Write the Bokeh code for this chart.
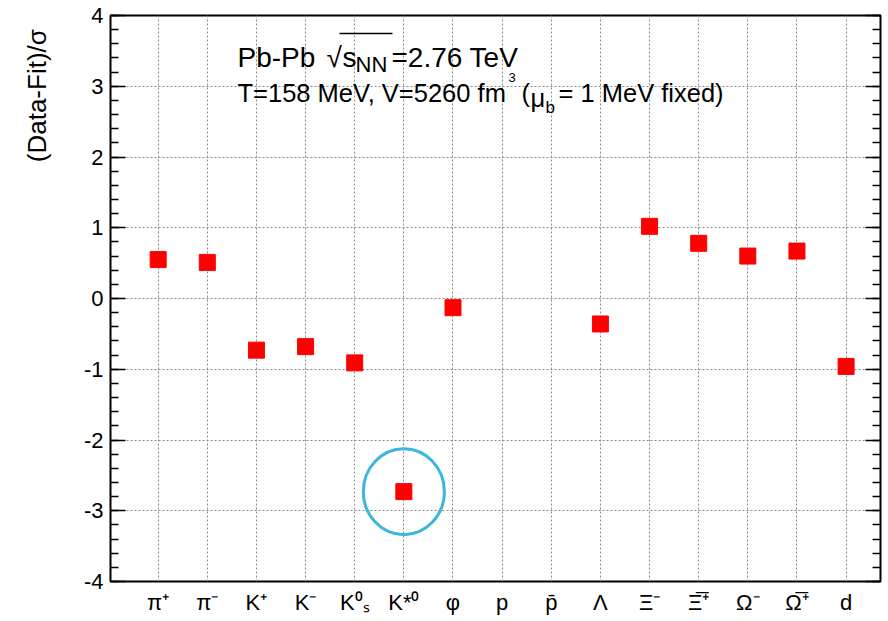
import math
from bokeh.plotting import figure
from bokeh.layouts import row
from bokeh.models import (Range1d, LinearAxis, FixedTicker, SingleIntervalTicker,
                          Label, Grid, ColumnDataSource)
from bokeh.core.properties import value
from bokeh.embed import file_html
from bokeh.resources import INLINE

# ---- data ----
categories = ["π⁺", "π⁻", "K⁺", "K⁻", "K⁰ₛ", "K*⁰", "φ", "p", "p̄", "Λ",
              "Ξ⁻", "Ξ̅⁺", "Ω⁻", "Ω̅⁺", "d"]
values = [0.55, 0.51, -0.73, -0.68, -0.91, -2.73, -0.13, None, None, -0.36,
          1.02, 0.78, 0.60, 0.67, -0.96]
y_tick_values = [-4, -3, -2, -1, 0, 1, 2, 3, 4]
y_title = "(Data-Fit)/σ"
highlight = "K*⁰"
y_min, y_max = -4, 4

FONT = "Liberation Sans"

# ---- layout (pixels on the page) ----
W, H = 888, 621
TW = 60                      # width of the strip holding the y title
FR_L, FR_R, FR_T, FR_B = 110, 880, 15, 581
X0, X1 = -0.97, 14.70


def dx(px):
    return X0 + (px - FR_L) * (X1 - X0) / (FR_R - FR_L)


def dy(py):
    return y_max - (py - FR_T) * (y_max - y_min) / (FR_B - FR_T)


# ---- strip with the rotated y-axis title ----
pt = figure(width=TW, height=H, x_range=Range1d(0, TW), y_range=Range1d(H, 0),
            output_backend="svg", toolbar_location=None,
            x_axis_type=None, y_axis_type=None, min_border=0)
pt.outline_line_color = None
pt.xgrid.visible = False
pt.ygrid.visible = False
pt.text(x=[36], y=[FR_T], text=[y_title], angle=math.pi / 2,
        text_align="right", text_baseline="middle",
        text_font=value(FONT), text_font_size=value("26px"), text_color="black")

# ---- main plot ----
p = figure(width=W - TW, height=H,
           x_range=Range1d(X0, X1), y_range=Range1d(y_min, y_max),
           output_backend="svg", toolbar_location=None,
           x_axis_type=None, y_axis_type=None,
           min_border_left=FR_L - TW, min_border_right=W - FR_R,
           min_border_top=FR_T, min_border_bottom=H - FR_B)
p.outline_line_color = "black"
p.outline_line_width = 2
p.background_fill_color = "white"
p.border_fill_color = "white"

cat_idx = list(range(len(categories)))
xticker = FixedTicker(ticks=cat_idx)
yticker = SingleIntervalTicker(interval=1, num_minor_ticks=5)

# grids
grid_kw = dict(grid_line_color="#8a8a8a", grid_line_dash="2 2", grid_line_width=1)
p.add_layout(Grid(dimension=0, ticker=xticker, **grid_kw))
p.add_layout(Grid(dimension=1, ticker=FixedTicker(ticks=y_tick_values[1:-1]), **grid_kw))


def tick_style(ax):
    ax.axis_line_color = None
    ax.major_tick_in = 15
    ax.major_tick_out = 0
    ax.minor_tick_in = 8
    ax.minor_tick_out = 0
    ax.major_tick_line_color = "black"
    ax.major_tick_line_width = 1.5
    ax.minor_tick_line_color = "black"
    ax.minor_tick_line_width = 1.5


# left axis
yl = LinearAxis(ticker=yticker)
tick_style(yl)
yl.major_label_overrides = {v: str(v) for v in y_tick_values}
yl.major_label_standoff = 7
yl.major_label_text_font = FONT
yl.major_label_text_font_size = "22px"
yl.major_label_text_color = "black"
p.add_layout(yl, "left")

# right axis (ticks only)
yr = LinearAxis(ticker=yticker)
tick_style(yr)
yr.major_label_standoff = 0
yr.major_label_overrides = {v: "" for v in y_tick_values}
p.add_layout(yr, "right")

# bottom axis
xb = LinearAxis(ticker=xticker)
xb.axis_line_color = None
xb.major_tick_in = 0
xb.major_tick_out = 0
xb.minor_tick_in = 0
xb.minor_tick_out = 0
xb.major_label_overrides = {i: c for i, c in zip(cat_idx, categories)}
xb.major_label_standoff = 8
xb.major_label_text_font = FONT
xb.major_label_text_font_size = "22px"
xb.major_label_text_color = "black"
p.add_layout(xb, "below")

# data points
xs = [i for i, v in zip(cat_idx, values) if v is not None]
ys = [v for v in values if v is not None]
src = ColumnDataSource(dict(x=xs, y=ys))
p.scatter("x", "y", source=src, marker="square", size=16,
          fill_color="#ff0000", line_color="#ff0000", line_width=1)

# highlight ellipse around K*0
hi = categories.index(highlight)
p.ellipse(x=[hi], y=[values[hi]], width=81, height=86,
          width_units="screen", height_units="screen",
          fill_color=None, line_color="#3db6dc", line_width=3)


# ---- annotation texts ----
def lab(text, px, py, size):
    p.add_layout(Label(x=dx(px), y=dy(py), text=text, text_font=FONT,
                       text_font_size=f"{size}px", text_color="black",
                       text_baseline="alphabetic"))


# line 1
lab("Pb-Pb", 237, 57, 28)
lab("√", 326, 57, 28)
lab("s", 342, 57, 28)
lab("NN", 355, 64, 22)
lab("=2.76 TeV", 391, 57, 28)
p.segment(x0=[dx(339)], y0=[dy(33)], x1=[dx(392)], y1=[dy(33)],
          line_color="black", line_width=1.5)

# line 2
lab("T=158 MeV, V=5260 fm", 237, 92, 25.5)
lab("3", 508, 77, 13)
lab("(", 521, 92, 25.5)
lab("μ", 530, 97, 25.5)
lab("b", 545, 107, 17)
lab("= 1 MeV fixed)", 558, 92, 25.5)

layout = row(pt, p)
open("out.html", "w").write(file_html(layout, INLINE))
